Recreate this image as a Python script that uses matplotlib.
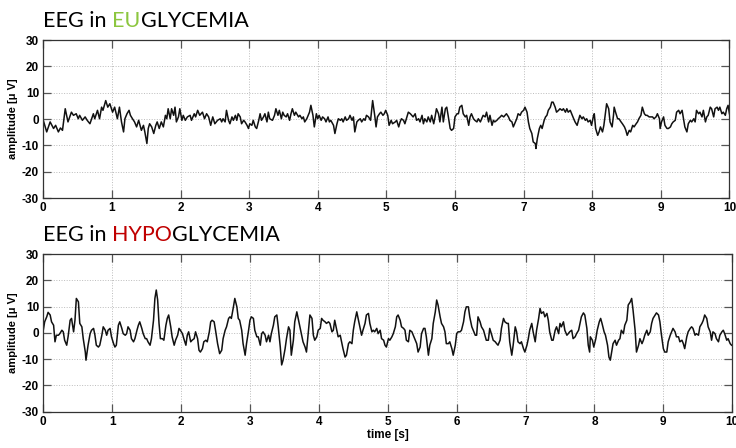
import matplotlib
matplotlib.use("Agg")

import matplotlib.pyplot as plt
import numpy as np


# ---------------------------------------------------------------------------
# DATA  (time in s, amplitude in uV)
# ---------------------------------------------------------------------------

eu_t = [
    0.00, 0.05, 0.10, 0.15, 0.18, 0.22, 0.25, 0.28, 0.32, 0.36,
    0.41, 0.44, 0.48, 0.51, 0.53, 0.57, 0.61, 0.64, 0.68, 0.73,
    0.75, 0.79, 0.82, 0.85, 0.87, 0.91, 0.94, 0.97, 1.01, 1.04,
    1.08, 1.11, 1.14, 1.17, 1.19, 1.22, 1.25, 1.27, 1.30, 1.33,
    1.36, 1.39, 1.41, 1.43, 1.46, 1.48, 1.51, 1.53, 1.55, 1.58,
    1.61, 1.64, 1.66, 1.69, 1.72, 1.75, 1.78, 1.80, 1.82, 1.85,
    1.87, 1.90, 1.92, 1.94, 1.97, 1.99, 2.02, 2.04, 2.07, 2.10,
    2.14, 2.16, 2.20, 2.22, 2.25, 2.28, 2.32, 2.35, 2.38, 2.41,
    2.44, 2.47, 2.50, 2.54, 2.58, 2.60, 2.62, 2.65, 2.67, 2.70,
    2.72, 2.75, 2.77, 2.80, 2.82, 2.84, 2.87, 2.89, 2.92, 2.94,
    2.97, 2.99, 3.01, 3.04, 3.06, 3.09, 3.11, 3.14, 3.16, 3.18,
    3.21, 3.23, 3.26, 3.28, 3.30, 3.34, 3.37, 3.39, 3.42, 3.44,
    3.47, 3.49, 3.51, 3.54, 3.56, 3.59, 3.61, 3.63, 3.66, 3.68,
    3.72, 3.74, 3.77, 3.79, 3.81, 3.84, 3.88, 3.90, 3.93, 3.95,
    3.98, 4.00, 4.02, 4.05, 4.07, 4.10, 4.12, 4.15, 4.17, 4.19,
    4.23, 4.25, 4.28, 4.30, 4.33, 4.35, 4.37, 4.40, 4.42, 4.45,
    4.47, 4.50, 4.52, 4.54, 4.57, 4.59, 4.62, 4.64, 4.67, 4.69,
    4.71, 4.74, 4.77, 4.80, 4.83, 4.85, 4.87, 4.90, 4.92, 4.95,
    4.97, 4.99, 5.02, 5.04, 5.07, 5.09, 5.13, 5.15, 5.18, 5.20,
    5.22, 5.25, 5.27, 5.30, 5.32, 5.35, 5.37, 5.39, 5.42, 5.44,
    5.47, 5.49, 5.52, 5.54, 5.56, 5.59, 5.61, 5.64, 5.66, 5.69,
    5.71, 5.73, 5.76, 5.78, 5.81, 5.83, 5.86, 5.88, 5.90, 5.93,
    5.95, 5.98, 6.00, 6.03, 6.05, 6.07, 6.10, 6.12, 6.15, 6.17,
    6.20, 6.22, 6.24, 6.27, 6.29, 6.32, 6.34, 6.37, 6.39, 6.41,
    6.44, 6.46, 6.49, 6.51, 6.54, 6.56, 6.58, 6.61, 6.63, 6.66,
    6.68, 6.71, 6.73, 6.75, 6.78, 6.80, 6.83, 6.85, 6.88, 6.90,
    6.92, 6.95, 6.97, 7.00, 7.02, 7.05, 7.07, 7.09, 7.12, 7.14,
    7.17, 7.18, 7.20, 7.23, 7.25, 7.27, 7.30, 7.32, 7.34, 7.36,
    7.39, 7.41, 7.43, 7.46, 7.48, 7.51, 7.53, 7.56, 7.58, 7.61,
    7.63, 7.65, 7.68, 7.70, 7.73, 7.75, 7.78, 7.80, 7.82, 7.85,
    7.87, 7.90, 7.92, 7.94, 7.97, 7.99, 8.02, 8.03, 8.05, 8.08,
    8.10, 8.12, 8.15, 8.17, 8.20, 8.21, 8.24, 8.26, 8.29, 8.31,
    8.32, 8.34, 8.37, 8.39, 8.42, 8.44, 8.47, 8.49, 8.51, 8.54,
    8.56, 8.59, 8.61, 8.64, 8.66, 8.68, 8.71, 8.73, 8.76, 8.78,
    8.80, 8.83, 8.85, 8.88, 8.90, 8.93, 8.95, 8.98, 8.99, 9.01,
    9.04, 9.06, 9.09, 9.11, 9.14, 9.16, 9.18, 9.21, 9.23, 9.26,
    9.28, 9.31, 9.33, 9.35, 9.38, 9.40, 9.43, 9.45, 9.48, 9.50,
    9.52, 9.55, 9.57, 9.60, 9.62, 9.65, 9.67, 9.69, 9.72, 9.74,
    9.77, 9.79, 9.82, 9.84, 9.86, 9.89, 9.91, 9.94, 9.96, 9.98, 10.00,
]
eu_v = [
    -0.5, -4.9, -1.1, -3.6, -2.4, -4.9, -3.4, -4.3, 3.9, -1.1,
    2.6, 1.4, 2.0, 0.1, 1.4, -0.5, 0.8, -0.5, -1.8, 2.0,
    0.1, 3.3, 0.1, 4.5, 3.3, 7.0, 4.5, 5.8, 2.6, 4.5,
    0.1, 4.5, -1.1, -4.9, 0.1, 2.0, 3.3, 1.4, 0.1, -1.1,
    -3.0, -0.5, -2.4, -4.3, -2.4, -4.9, -9.3, -3.6, -1.8, -3.0,
    -5.5, -2.4, -1.1, -3.6, -1.1, -3.0, 1.4, 0.1, 3.9, 0.1,
    3.9, 1.4, 4.5, -1.1, 0.8, 3.9, -0.5, 1.4, -0.5, 0.8,
    1.4, -0.5, 2.0, 0.8, 3.3, 1.4, 2.6, 0.1, 2.0, 0.8,
    -2.4, 0.8, -1.8, -0.5, 0.1, -1.1, 0.1, -1.1, 3.3, -0.5,
    -1.8, 0.8, -0.5, 1.4, -0.5, 2.0, 0.8, -1.8, -0.5, -1.1,
    -2.4, -3.6, -1.8, -2.4, -0.5, -3.0, -3.6, -0.5, 2.0, -0.5,
    0.8, 2.0, -1.1, 2.6, 0.1, -0.5, 1.4, 3.9, 1.4, 3.3,
    0.1, 2.6, 1.4, 0.8, 2.0, -0.5, 2.0, 3.9, 1.4, 2.6,
    0.8, 1.4, 0.1, 0.8, -1.1, 0.1, 2.6, 5.2, 1.4, -3.0,
    2.0, 0.1, 1.4, -0.5, 0.8, 0.1, -1.1, 0.8, -1.1, -0.5,
    -2.4, -5.5, -1.8, 0.1, -0.5, 0.1, -1.1, 0.8, -0.5, 0.1,
    1.4, -0.5, 0.8, -4.9, -1.1, -0.5, 0.1, -1.1, 0.1, -0.5,
    1.4, 0.8, -0.5, 7.0, 1.4, -3.0, 0.8, 2.0, 2.6, 1.4,
    2.0, 3.3, 1.4, -2.4, -0.5, -1.8, -1.1, -0.5, -3.0, -1.1,
    0.1, -0.5, -1.8, 0.8, 2.6, 2.0, 1.4, 0.8, 2.0, -0.5,
    0.1, -1.1, 1.4, -1.8, 0.1, -1.1, 0.8, -1.1, 1.4, -1.8,
    0.8, 3.9, 2.0, -1.1, 4.5, -1.1, 3.9, 4.5, 1.4, -3.6,
    -4.3, -3.6, 0.8, 2.0, 2.0, 4.5, 5.2, 2.0, 0.8, 1.4,
    -2.4, 0.8, 2.0, 0.1, -0.5, -1.1, 0.1, -1.1, 0.1, 1.4,
    0.8, 2.6, -1.1, 1.4, -2.4, -0.5, -1.1, -0.5, 0.1, 0.8,
    1.4, 0.8, 1.4, 2.0, 0.8, -0.5, -1.1, -3.0, -1.1, 0.1,
    2.0, 1.4, 2.6, 3.3, 4.5, 2.6, -1.1, -3.6, -5.5, -8.7,
    -9.3, -11.2, -7.4, -3.6, -2.4, -3.6, -0.5, 0.8, 1.4, 3.3,
    4.5, 6.4, 6.4, 4.5, 2.6, 3.3, 3.9, 3.3, 3.9, 2.6,
    3.9, 2.6, 3.3, 2.0, 0.1, -1.1, -2.4, -0.5, 1.4, 0.1,
    0.8, -0.5, 0.1, -1.1, -0.5, -2.4, 1.4, 2.0, -3.6, -6.2,
    -4.9, -3.0, -4.9, -2.4, 3.9, 5.8, 3.9, -1.1, -3.0, 1.4,
    4.5, 2.6, 0.1, 0.1, -1.1, -1.8, -3.0, -4.3, -6.2, -4.3,
    -4.9, -2.4, -3.0, -1.8, -1.1, 0.1, 1.4, 4.5, 2.0, 1.4,
    1.4, 0.8, 0.8, 0.8, 0.1, 0.8, 2.0, 0.1, -3.6, -1.1,
    0.8, -2.4, -3.6, -3.6, -3.0, -1.8, -1.1, -0.5, 2.6, 3.3,
    2.0, 3.3, 0.1, -3.0, -4.9, -1.8, -0.5, -1.1, 0.1, -1.1,
    3.3, 2.0, 2.6, 0.8, 3.3, -1.1, 0.8, 1.4, 4.5, 3.9,
    0.8, 3.9, 4.5, 3.3, 4.5, 2.0, 2.6, 1.4, 3.9, 5.2, 2.0,
]

hypo_t = [
    0.00, 0.02, 0.05, 0.07, 0.10, 0.12, 0.15, 0.17, 0.19, 0.22,
    0.24, 0.27, 0.29, 0.31, 0.34, 0.36, 0.39, 0.41, 0.44, 0.46,
    0.48, 0.51, 0.53, 0.56, 0.58, 0.61, 0.62, 0.65, 0.68, 0.70,
    0.73, 0.75, 0.77, 0.80, 0.82, 0.85, 0.87, 0.90, 0.92, 0.94,
    0.97, 0.99, 1.02, 1.04, 1.06, 1.09, 1.11, 1.14, 1.16, 1.19,
    1.21, 1.23, 1.26, 1.28, 1.31, 1.33, 1.36, 1.38, 1.40, 1.43,
    1.45, 1.48, 1.50, 1.52, 1.55, 1.57, 1.60, 1.62, 1.64, 1.66,
    1.68, 1.70, 1.73, 1.75, 1.78, 1.80, 1.82, 1.85, 1.87, 1.90,
    1.92, 1.95, 1.97, 1.99, 2.02, 2.04, 2.07, 2.09, 2.11, 2.14,
    2.16, 2.19, 2.21, 2.24, 2.26, 2.28, 2.31, 2.33, 2.36, 2.38,
    2.41, 2.43, 2.45, 2.48, 2.50, 2.53, 2.56, 2.59, 2.61, 2.64,
    2.66, 2.69, 2.71, 2.73, 2.76, 2.78, 2.81, 2.83, 2.85, 2.88,
    2.90, 2.93, 2.95, 2.98, 3.00, 3.02, 3.05, 3.07, 3.10, 3.12,
    3.15, 3.17, 3.19, 3.22, 3.24, 3.27, 3.29, 3.31, 3.34, 3.36,
    3.39, 3.41, 3.44, 3.46, 3.48, 3.51, 3.53, 3.56, 3.58, 3.60,
    3.63, 3.65, 3.68, 3.70, 3.73, 3.75, 3.77, 3.80, 3.82, 3.85,
    3.87, 3.90, 3.92, 3.94, 3.97, 3.99, 4.02, 4.04, 4.06, 4.09,
    4.11, 4.14, 4.16, 4.19, 4.21, 4.23, 4.26, 4.28, 4.31, 4.33,
    4.35, 4.38, 4.40, 4.43, 4.45, 4.48, 4.50, 4.52, 4.55, 4.57,
    4.60, 4.62, 4.64, 4.67, 4.69, 4.72, 4.74, 4.77, 4.79, 4.81,
    4.84, 4.86, 4.89, 4.91, 4.94, 4.96, 4.98, 5.01, 5.03, 5.06,
    5.08, 5.11, 5.13, 5.15, 5.18, 5.20, 5.23, 5.25, 5.27, 5.30,
    5.32, 5.35, 5.37, 5.39, 5.42, 5.44, 5.47, 5.49, 5.52, 5.54,
    5.56, 5.59, 5.61, 5.64, 5.66, 5.69, 5.71, 5.73, 5.76, 5.78,
    5.81, 5.83, 5.85, 5.88, 5.90, 5.93, 5.95, 5.98, 6.00, 6.02,
    6.05, 6.07, 6.10, 6.12, 6.14, 6.17, 6.19, 6.22, 6.24, 6.27,
    6.29, 6.31, 6.34, 6.36, 6.39, 6.41, 6.43, 6.46, 6.48, 6.51,
    6.53, 6.56, 6.58, 6.60, 6.63, 6.65, 6.68, 6.70, 6.73, 6.75,
    6.77, 6.80, 6.82, 6.85, 6.87, 6.89, 6.92, 6.94, 6.97, 6.99,
    7.02, 7.04, 7.06, 7.09, 7.11, 7.14, 7.16, 7.19, 7.21, 7.23,
    7.26, 7.28, 7.31, 7.33, 7.35, 7.38, 7.40, 7.43, 7.45, 7.48,
    7.50, 7.52, 7.55, 7.57, 7.60, 7.62, 7.64, 7.67, 7.69, 7.72,
    7.74, 7.77, 7.79, 7.81, 7.84, 7.86, 7.89, 7.91, 7.93, 7.94,
    7.97, 7.99, 8.02, 8.04, 8.07, 8.09, 8.11, 8.14, 8.16, 8.19,
    8.21, 8.23, 8.25, 8.27, 8.30, 8.32, 8.35, 8.37, 8.39, 8.42,
    8.44, 8.47, 8.49, 8.52, 8.54, 8.56, 8.59, 8.61, 8.64, 8.66,
    8.69, 8.71, 8.73, 8.76, 8.78, 8.81, 8.83, 8.85, 8.88, 8.90,
    8.93, 8.95, 8.97, 9.00, 9.02, 9.05, 9.07, 9.10, 9.12, 9.14,
    9.17, 9.19, 9.22, 9.24, 9.27, 9.29, 9.31, 9.34, 9.36, 9.39,
    9.41, 9.43, 9.46, 9.48, 9.51, 9.53, 9.56, 9.58, 9.60, 9.63,
    9.65, 9.68, 9.70, 9.72, 9.75, 9.77, 9.80, 9.82, 9.85, 9.87,
    9.89, 9.92, 9.94, 9.97, 9.99,
]
hypo_v = [
    1.0, 4.2, 6.1, 7.8, 6.8, 4.2, 2.9, -3.4, -0.9, -0.9,
    -0.3, 1.0, 0.4, -2.8, -4.7, -1.5, 4.8, 5.5, 0.4, 4.8,
    13.1, 11.8, 3.6, 2.3, -2.2, -7.3, -10.4, -4.7, -0.3, 1.0,
    1.7, -0.9, -4.7, -5.4, -4.7, -0.9, 2.3, 1.0, -0.9, 1.0,
    1.7, -1.5, -4.1, -5.4, -4.7, 2.9, 4.2, 1.7, -0.3, -0.9,
    -0.3, 2.3, 1.0, -2.2, -3.4, -2.2, 1.0, 2.9, 4.2, 1.7,
    -0.3, -2.2, -2.2, -3.4, -4.7, -2.2, 4.8, 13.1, 16.3, 12.5,
    3.6, -2.2, -2.2, -2.8, 2.9, 5.5, 6.8, 2.3, -1.5, -4.7,
    -2.8, -0.9, 1.7, 1.0, -0.3, -2.2, -4.7, -0.9, 0.4, -3.4,
    -2.8, -2.2, 0.4, -2.2, -6.6, -7.3, -6.0, -3.4, -2.8, -3.4,
    0.4, 4.2, 4.8, 4.2, 1.0, -4.1, -7.9, -6.6, -2.2, 1.0,
    2.3, 5.5, 6.1, 5.5, 9.9, 13.1, 9.9, 5.5, 4.8, 1.0,
    -4.1, -8.5, -4.1, 1.0, 4.8, 6.1, 5.5, 1.0, -1.5, -1.5,
    -4.7, -0.3, 0.4, -0.9, -3.4, -0.9, -3.4, -0.3, 2.9, 6.1,
    6.8, 2.3, -5.4, -12.2, -10.4, -6.0, -2.2, 2.3, 1.0, -8.5,
    -2.8, 4.2, 8.0, 5.5, 1.7, -0.9, -3.4, -5.4, -7.3, 1.0,
    6.8, 5.5, -0.9, -2.8, -1.5, 1.0, 1.7, 5.5, 4.8, 4.2,
    3.6, 4.2, 3.6, 0.4, 1.0, 4.8, 1.0, -1.5, -0.9, -3.4,
    -6.0, -9.2, -8.5, -4.1, -3.4, -4.1, 1.0, 4.2, 8.0, 5.5,
    1.7, -0.9, 1.0, 3.6, 6.8, 7.4, 3.6, 0.4, 1.0, 0.4,
    1.7, -0.3, 1.0, -2.2, -2.8, -4.7, -5.4, -2.2, -2.8, -1.5,
    -0.3, 2.3, 6.1, 6.8, 4.8, 2.3, 1.7, 1.0, -2.8, -3.4,
    1.0, 0.4, -0.9, -2.2, -4.1, -7.3, -5.4, -0.3, 1.7, 1.7,
    -1.5, -8.5, -4.7, -2.2, 3.6, 8.0, 12.5, 10.6, 6.1, 3.6,
    2.3, 0.4, -4.1, -4.1, -3.4, -6.0, -8.5, -4.7, -0.3, 0.4,
    0.4, 1.0, 4.2, 8.0, 9.9, 9.9, 6.1, 2.3, 1.0, -0.9,
    -0.9, 6.1, 4.2, 2.3, 1.0, -0.9, -2.8, -2.8, 1.7, -0.9,
    -2.8, -3.4, -4.1, -4.7, -2.8, 1.7, 5.5, 4.2, 3.6, 3.6,
    -3.4, -8.5, -4.7, 2.3, 0.4, -3.4, -4.1, -3.4, -6.0, -7.3,
    -4.7, -2.2, 1.0, 3.6, 0.4, -3.4, 1.0, 5.5, 9.3, 7.4,
    8.0, 6.1, 7.4, 4.8, 0.4, -2.8, -2.8, 1.0, 2.3, -0.3,
    3.6, 2.3, 4.2, 1.0, -0.9, -0.3, 0.4, 1.0, -2.2, -1.5,
    -0.3, 1.0, 3.6, 6.1, 7.6, 6.8, 1.7, -4.7, -7.3, -1.5,
    -2.8, -5.4, -2.2, 1.0, 4.2, 5.5, 3.6, 0.4, -0.9, -4.7,
    -9.2, -10.4, -7.3, -4.1, -2.8, -4.7, -2.8, -2.2, 1.0, -0.3,
    2.9, 4.8, 10.6, 11.8, 13.1, 8.7, 1.0, -7.3, -4.7, -2.2,
    -4.1, -2.8, -0.9, 1.0, -0.9, 0.4, 3.6, 5.5, 6.8, 7.6,
    6.8, 4.2, -0.3, -6.0, -7.3, -7.3, -3.4, -0.9, 0.4, 1.7,
    0.4, -1.5, -1.5, -3.4, -2.8, -4.1, -6.0, -1.5, 0.4, 1.7,
    2.3, 1.7, -0.9, -0.3, -0.9, 2.3, 3.6, 4.8, 6.8, 5.5,
    2.3, 0.4, -2.8, 0.4, -0.3, -2.2, -3.4, -0.9, 0.4, 1.0,
    -0.3, -2.8, -2.2, -4.1, -4.7,
]

x_ticks = [0, 1, 2, 3, 4, 5, 6, 7, 8, 9, 10]
y_ticks = [-30, -20, -10, 0, 10, 20, 30]

eu_title = [("EEG in ", "black"), ("EU", "#8cc63f"), ("GLYCEMIA", "black")]
hypo_title = [("EEG in ", "black"), ("HYPO", "#c00000"), ("GLYCEMIA", "black")]


# ---------------------------------------------------------------------------
# HELPERS
# ---------------------------------------------------------------------------

def _style_axes(ax):
    ax.set_xlim(0, 10)
    ax.set_ylim(-30, 30)
    ax.set_xticks(x_ticks)
    ax.set_yticks(y_ticks)
    ax.grid(True, linestyle=":", color="#bcbcbc", linewidth=0.7)
    ax.set_axisbelow(True)
    ax.tick_params(direction="in", length=6, width=0.9, color="#555555",
                   top=True, right=True, labelsize=8.5, pad=3)
    for lab in ax.get_xticklabels() + ax.get_yticklabels():
        lab.set_fontweight("bold")
    for sp in ax.spines.values():
        sp.set_color("#333333")
        sp.set_linewidth(0.9)
    ax.set_ylabel("amplitude [μ V]", fontsize=8, fontweight="bold", labelpad=3)


def _colored_title(fig, x, y, parts, size=15.5):
    renderer = fig.canvas.get_renderer()
    for text, color in parts:
        t = fig.text(x, y, text, color=color, fontsize=size, family="Lato",
                     va="baseline", ha="left")
        ext = t.get_window_extent(renderer)
        x += ext.width / fig.bbox.width


# ---------------------------------------------------------------------------
# PLOT
# ---------------------------------------------------------------------------

plt.rcParams["font.family"] = ["Liberation Sans", "DejaVu Sans"]
plt.rcParams["axes.unicode_minus"] = False

fig = plt.figure(figsize=(7.36, 4.48), dpi=100)
fig.patch.set_facecolor("white")

ax1 = fig.add_axes([0.0588, 0.558, 0.9323, 0.3527])
ax2 = fig.add_axes([0.0588, 0.081, 0.9361, 0.352])

ax1.plot(np.array(eu_t), np.array(eu_v), color="#111111", linewidth=1.1)
ax2.plot(np.array(hypo_t), np.array(hypo_v), color="#111111", linewidth=1.1)

_style_axes(ax1)
_style_axes(ax2)
ax2.set_xlabel("time [s]", fontsize=8.5, fontweight="bold", labelpad=1)

_colored_title(fig, 0.059, 0.940, eu_title)
_colored_title(fig, 0.059, 0.463, hypo_title)

fig.savefig("out.png", dpi=100)
plt.close(fig)
